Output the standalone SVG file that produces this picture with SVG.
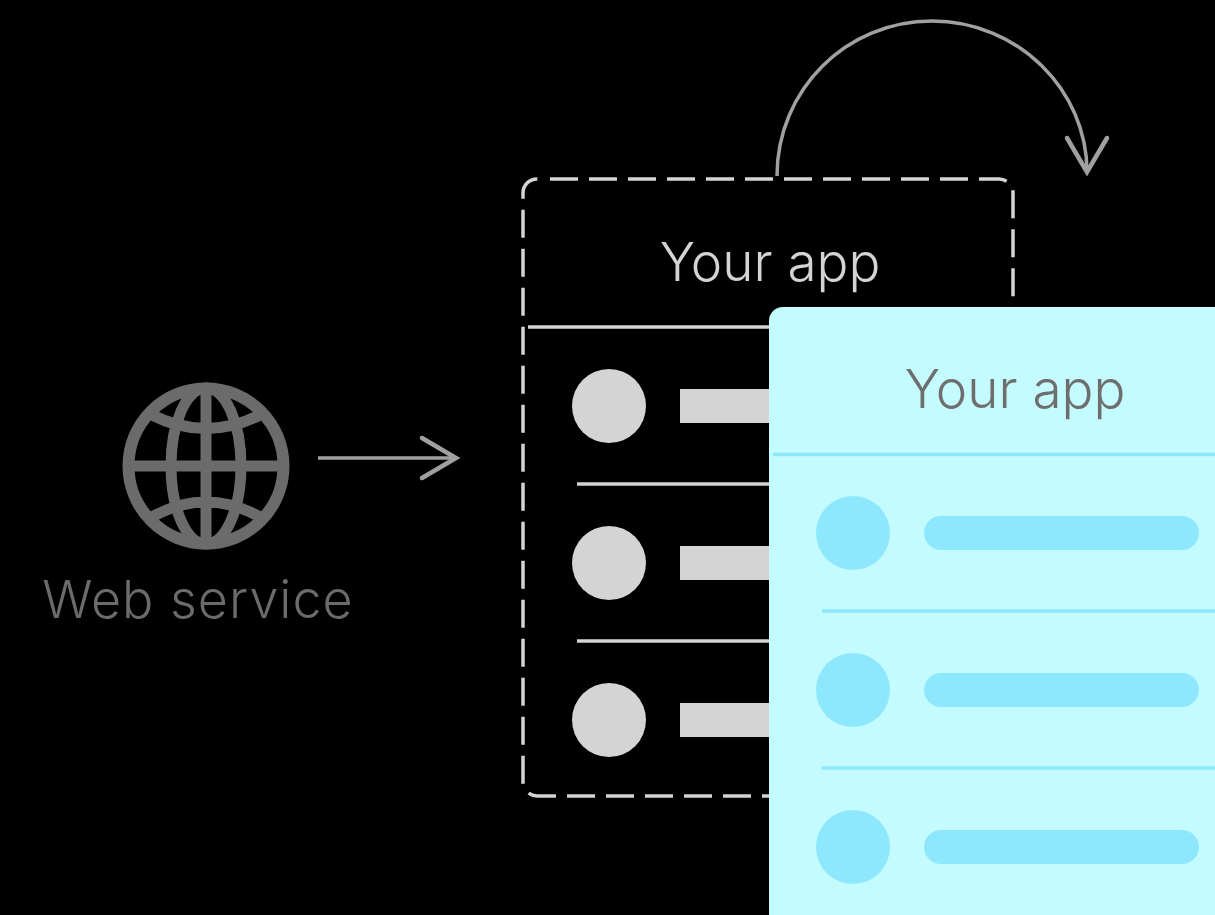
<svg xmlns="http://www.w3.org/2000/svg" width="1215" height="915" viewBox="0 0 1215 915">
<defs>
<style>
text{font-family:"Inter","Liberation Sans",sans-serif;font-weight:300;font-size:53px;text-anchor:middle}
.dash{fill:none;stroke:#d4d4d4;stroke-width:3.500;stroke-dasharray:28 11}
.rule{stroke:#d4d4d4;stroke-width:3.500}
.dot{fill:#d4d4d4}
.rule2{stroke:#8de8fd;stroke-width:3.500}
.dot2{fill:#8de8fd}
.globe{fill:none;stroke:#6b6b6b;stroke-width:11}
.conn{fill:none;stroke:#a0a0a0;stroke-width:3.500;marker-end:url(#head)}
</style>
<marker id="head" markerUnits="userSpaceOnUse" markerWidth="50" markerHeight="50" refX="42" refY="25" orient="auto" viewBox="0 0 50 50">
<path d="M8,5 L42,25 L8,45" fill="none" stroke="#a0a0a0" stroke-width="4.500" stroke-linecap="round"/>
</marker>
</defs>
<rect width="1215" height="915" fill="#000"/>
<g id="web-service">
<circle class="globe" cx="206" cy="466" r="77.500" style="stroke-width:12"/>
<ellipse class="globe" cx="206" cy="466" rx="35" ry="78"/>
<path class="globe" d="M206,388V544M128,466H284M150,414Q206,443 262,414M150,518Q206,486 262,518"/>
<text x="198" y="618" fill="#6b6b6b" style="font-size:52px;letter-spacing:1px">Web service</text>
</g>
<g id="your-app-back">
<path class="dash" d="M550,179H999A14,14 0 0 1 1013,193V400"/>
<path class="dash" d="M790,796H537A14,14 0 0 1 523,782V193A14,14 0 0 1 537,179H540"/>
<text x="770" y="281" fill="#d4d4d4">Your app</text>
<path class="rule" d="M528,327H790M577,484H790M577,641H790"/>
<circle class="dot" cx="609" cy="406" r="37"/>
<circle class="dot" cx="609" cy="563" r="37"/>
<circle class="dot" cx="609" cy="720" r="37"/>
<rect class="dot" x="680" y="389" width="100" height="34"/>
<rect class="dot" x="680" y="546" width="100" height="34"/>
<rect class="dot" x="680" y="703" width="100" height="34"/>
</g>
<g id="connectors">
<path class="conn" d="M318,458H456"/>
<path class="conn" d="M777,176C777,90 846,21 932,21C1018,21 1087,90 1087,172"/>
</g>
<g id="your-app-front">
<rect x="769" y="307" width="480" height="640" rx="14" fill="#c4fbfe"/>
<text x="1015" y="408" fill="#6e6e6e">Your app</text>
<path class="rule2" d="M773,454.500H1215M822,611H1215M822,768H1215"/>
<circle class="dot2" cx="853" cy="533" r="37"/>
<circle class="dot2" cx="853" cy="690" r="37"/>
<circle class="dot2" cx="853" cy="847" r="37"/>
<rect class="dot2" x="924" y="516" width="275" height="34" rx="17"/>
<rect class="dot2" x="924" y="673" width="275" height="34" rx="17"/>
<rect class="dot2" x="924" y="830" width="275" height="34" rx="17"/>
</g>
</svg>
